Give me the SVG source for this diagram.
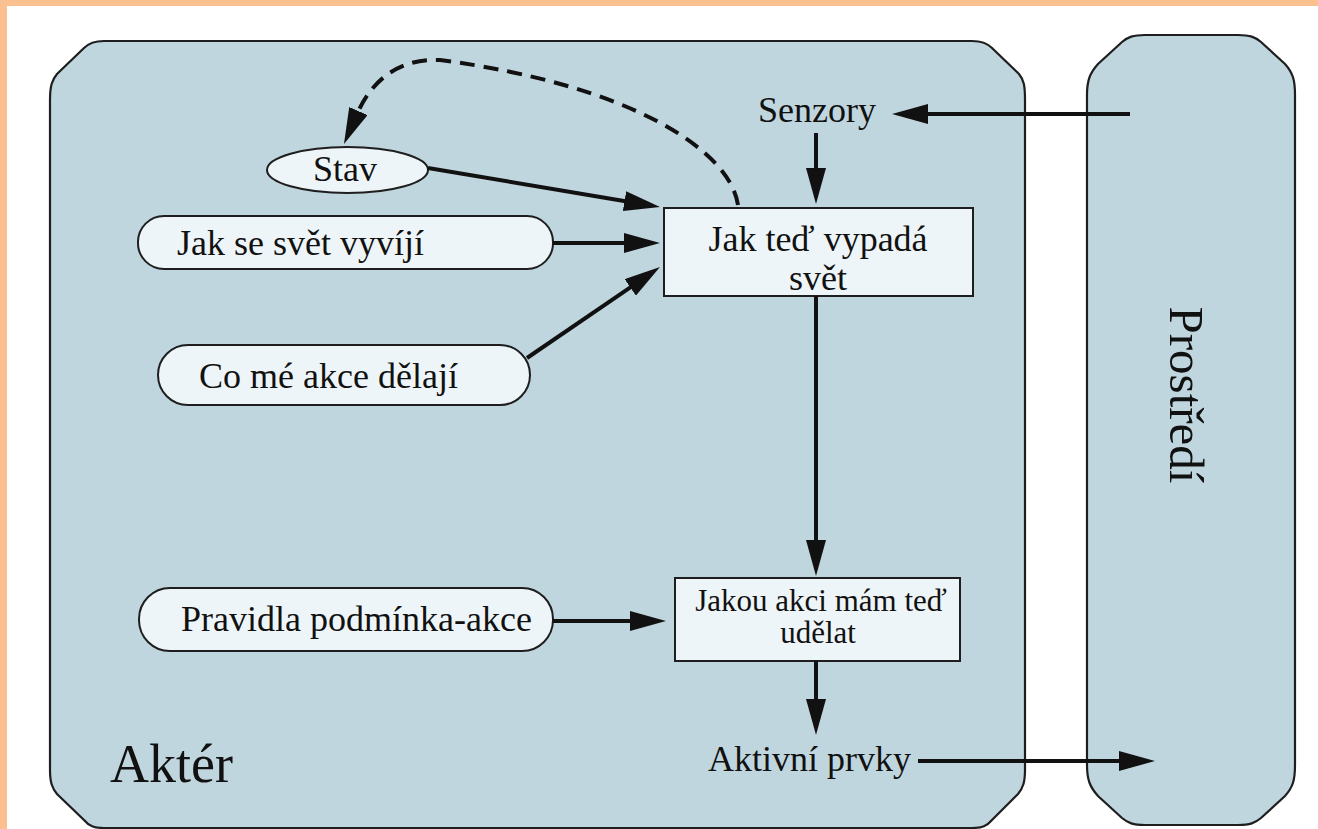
<svg xmlns="http://www.w3.org/2000/svg" width="1318" height="829" viewBox="0 0 1318 829">
<style>
.region{fill:#C0D6DF;stroke:#1e1e1e;stroke-width:2.2}
.node{fill:#EEF5F8;stroke:#1e1e1e;stroke-width:2}
text{font-family:"Liberation Serif","DejaVu Serif",serif;fill:#111}
.t{font-size:36px}
.big{font-size:54px}
.env{font-size:49px}
.sm{font-size:31px}
.c{text-anchor:middle}
.edge{fill:none;stroke:#111;stroke-width:4}
.dash{stroke-dasharray:15 9}
</style>
<defs>
<marker id="ah" viewBox="0 0 36 20" markerWidth="36" markerHeight="20" refX="1" refY="10" orient="auto" markerUnits="userSpaceOnUse">
<path d="M0,0 L36,10 L0,20 z" fill="#111"/>
</marker>
</defs>
<rect x="0" y="0" width="1318" height="829" fill="#FFFFFF"/>
<rect x="0" y="0" width="1318" height="6" fill="#FAC090"/>
<rect x="0" y="0" width="7" height="829" fill="#FAC090"/>

<g id="akter">
<path class="region" d="M50,100 C50,86 52,80 57,74 L84,48 C89,43 94,41 104,41 L972,41 C982,41 987,43 992,48 L1019,74 C1024,80 1025,86 1025,100 L1025,770 C1025,782 1023,788 1018,794 L992,820 C987,826 982,828 972,828 L104,828 C94,828 89,826 84,820 L57,794 C52,788 50,782 50,770 Z"/>
<text class="big" x="110" y="782">Aktér</text>
</g>

<g id="prostredi">
<path class="region" d="M1087,95 C1087,80 1090,73 1098,64 L1122,42 C1128,37 1133,35 1145,35 L1238,35 C1250,35 1255,37 1261,42 L1285,64 C1293,73 1295,80 1295,95 L1295,765 C1295,780 1293,787 1285,796 L1261,818 C1255,823 1250,825 1238,825 L1145,825 C1133,825 1128,823 1122,818 L1098,796 C1090,787 1087,780 1087,765 Z"/>
<text class="env c" transform="translate(1170,395) rotate(90)">Prostředí</text>
</g>

<g id="senzory">
<text class="t c" x="817" y="122">Senzory</text>
</g>

<g id="stav">
<ellipse class="node" cx="347.5" cy="170" rx="80.5" ry="23"/>
<text class="t c" x="345" y="181">Stav</text>
</g>

<g id="jak-se-svet">
<rect class="node" x="138" y="216" width="415" height="53" rx="26" ry="26"/>
<text class="t" x="177" y="255">Jak se svět vyvíjí</text>
</g>

<g id="co-me-akce">
<rect class="node" x="158" y="345" width="372" height="60" rx="30" ry="30"/>
<text class="t" x="199" y="388">Co mé akce dělají</text>
</g>

<g id="jak-ted-vypada">
<rect class="node" x="664" y="208" width="309" height="88"/>
<text class="t c" x="818" y="251">Jak teď vypadá</text>
<text class="t c" x="818" y="290">svět</text>
</g>

<g id="pravidla">
<rect class="node" x="139" y="588" width="414" height="63" rx="31" ry="31"/>
<text class="t" x="181" y="631">Pravidla podmínka-akce</text>
</g>

<g id="jakou-akci">
<rect class="node" x="675" y="578" width="285" height="83"/>
<text class="sm c" x="821" y="611">Jakou akci mám teď</text>
<text class="sm c" x="818" y="643">udělat</text>
</g>

<g id="aktivni-prvky">
<text class="t" x="708" y="771">Aktivní prvky</text>
</g>

<g id="connectors">
<path class="edge" d="M1130,114 L927,114" marker-end="url(#ah)"/>
<path class="edge" d="M816,133 L816,169" marker-end="url(#ah)"/>
<path class="edge" d="M428,168 L625.5,201.2" marker-end="url(#ah)"/>
<path class="edge" d="M553,243 L625,243" marker-end="url(#ah)"/>
<path class="edge" d="M527,358 L631.1,286.8" marker-end="url(#ah)"/>
<path class="edge dash" d="M738,205 C730,150 630,85 440,60 C400,58 372,80 358,112" marker-end="url(#ah)"/>
<path class="edge" d="M816,296 L816,541" marker-end="url(#ah)"/>
<path class="edge" d="M553,621 L631,621" marker-end="url(#ah)"/>
<path class="edge" d="M816,661 L816,700" marker-end="url(#ah)"/>
<path class="edge" d="M918,761 L1120,761" marker-end="url(#ah)"/>
</g>
</svg>
